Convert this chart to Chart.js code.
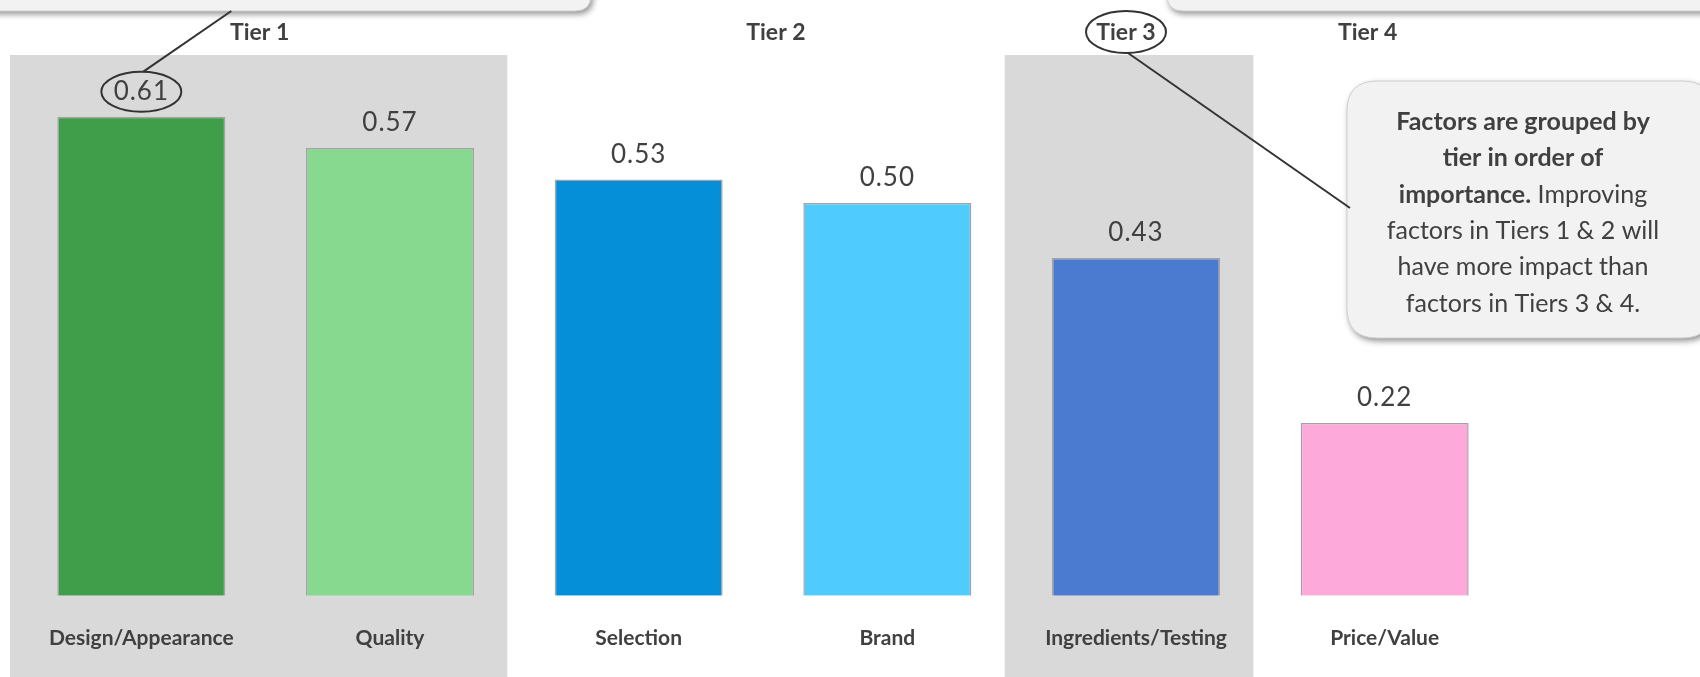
<!DOCTYPE html>
<html>
<head>
<meta charset="UTF-8">
<script src="https://cdn.jsdelivr.net/npm/chart.js@4/dist/chart.umd.min.js"></script>
<style>
  html, body { margin: 0; padding: 0; background: #fff; }
  #wrap { width: 1700px; height: 677px; position: relative; }
</style>
</head>
<body>
<div id="wrap"><canvas id="chart" width="1700" height="677"></canvas></div>
<script>
// data
const factors = ['Design/Appearance', 'Quality', 'Selection', 'Brand', 'Ingredients/Testing', 'Price/Value'];
const importance = [0.61, 0.57, 0.53, 0.50, 0.43, 0.22];
const barColors = ['#409e4b', '#86d98f', '#068fd9', '#4fcbfe', '#4b7bd1', '#fdaadb'];
const tierNames = ['Tier 1', 'Tier 2', 'Tier 3', 'Tier 4'];
const tierFirst = [0, 2, 4, 5];   // first factor index of each tier
const tierLast  = [1, 3, 4, 5];   // last factor index of each tier
const shadedTiers = [0, 2];       // tiers drawn on a grey panel

const FONT = 'Lato, "Open Sans", sans-serif';
const INK = '#404040';

function roundRect(ctx, x, y, w, h, r) {
  ctx.beginPath();
  ctx.moveTo(x + r, y);
  ctx.lineTo(x + w - r, y);
  ctx.quadraticCurveTo(x + w, y, x + w, y + r);
  ctx.lineTo(x + w, y + h - r);
  ctx.quadraticCurveTo(x + w, y + h, x + w - r, y + h);
  ctx.lineTo(x + r, y + h);
  ctx.quadraticCurveTo(x, y + h, x, y + h - r);
  ctx.lineTo(x, y + r);
  ctx.quadraticCurveTo(x, y, x + r, y);
  ctx.closePath();
}

function calloutBox(ctx, x, y, w, h, r) {
  ctx.save();
  ctx.shadowColor = 'rgba(0,0,0,0.45)';
  ctx.shadowBlur = 6;
  ctx.shadowOffsetX = 2;
  ctx.shadowOffsetY = 3;
  roundRect(ctx, x, y, w, h, r);
  ctx.fillStyle = '#f2f2f2';
  ctx.fill();
  ctx.restore();
  ctx.save();
  roundRect(ctx, x, y, w, h, r);
  ctx.strokeStyle = '#d0d0d0';
  ctx.lineWidth = 1;
  ctx.stroke();
  ctx.restore();
}

function ellipse(ctx, cx, cy, rx, ry) {
  ctx.beginPath();
  ctx.ellipse(cx, cy, rx, ry, 0, 0, Math.PI * 2);
  ctx.stroke();
}

function slotEdges(xs, i) {
  const half = (xs.getPixelForValue(1) - xs.getPixelForValue(0)) / 2;
  const c = xs.getPixelForValue(i);
  return [c - half, c + half];
}

const tierPlugin = {
  id: 'tiers',
  beforeDraw(chart) {
    const ctx = chart.ctx;
    const xs = chart.scales.x;
    ctx.save();
    ctx.fillStyle = '#ffffff';
    ctx.fillRect(0, 0, chart.width, chart.height);
    ctx.fillStyle = '#d9d9d9';
    shadedTiers.forEach(t => {
      const l = slotEdges(xs, tierFirst[t])[0] - 7;
      const r = slotEdges(xs, tierLast[t])[1] - 7;
      ctx.fillRect(l, 55, r - l, chart.height - 55);
    });
    ctx.restore();
  },
  afterDraw(chart) {
    const ctx = chart.ctx;
    const xs = chart.scales.x;
    const meta = chart.getDatasetMeta(0);
    ctx.save();

    // value labels
    ctx.fillStyle = INK;
    ctx.font = '26px ' + FONT;
    ctx.textAlign = 'center';
    ctx.textBaseline = 'middle';
    ctx.letterSpacing = '1px';
    meta.data.forEach((bar, i) => {
      ctx.fillText(importance[i].toFixed(2), bar.x, bar.y - 25);
    });
    ctx.letterSpacing = '0px';

    // tier labels
    const nudge = [-6, 13, -10, -17];
    ctx.font = 'bold 23px ' + FONT;
    const tierPos = tierNames.map((name, t) => {
      const x = (xs.getPixelForValue(tierFirst[t]) + xs.getPixelForValue(tierLast[t])) / 2 + nudge[t];
      ctx.fillText(name, x, 33);
      return x;
    });

    // callout boxes cut by the top edge
    calloutBox(ctx, -20, -60, 611, 71, 16);
    calloutBox(ctx, 1167, -60, 560, 71, 16);

    // right hand callout
    calloutBox(ctx, 1347, 81, 365, 257, 30);
    const cx = 1523;
    const lines = [
      [['bold', 'Factors are grouped by']],
      [['bold', 'tier in order of']],
      [['bold', 'importance.'], ['normal', ' Improving']],
      [['normal', 'factors in Tiers 1 & 2 will']],
      [['normal', 'have more impact than']],
      [['normal', 'factors in Tiers 3 & 4.']]
    ];
    ctx.fillStyle = INK;
    ctx.textBaseline = 'middle';
    ctx.textAlign = 'left';
    lines.forEach((parts, k) => {
      const y = 122 + k * 36.3;
      let total = 0;
      parts.forEach(p => { ctx.font = p[0] + ' 25px ' + FONT; total += ctx.measureText(p[1]).width; });
      let x = cx - total / 2;
      parts.forEach(p => {
        ctx.font = p[0] + ' 25px ' + FONT;
        ctx.fillText(p[1], x, y);
        x += ctx.measureText(p[1]).width;
      });
    });

    // circles and leader lines
    ctx.strokeStyle = '#333333';
    ctx.lineWidth = 2;
    const b0 = meta.data[0];
    ellipse(ctx, b0.x, b0.y - 25, 40, 20);
    ctx.beginPath();
    ctx.moveTo(b0.x + 2, b0.y - 45);
    ctx.lineTo(b0.x + 90, 11);
    ctx.stroke();

    const t3x = tierPos[2];
    ellipse(ctx, t3x, 32, 40, 21);
    ctx.beginPath();
    ctx.moveTo(t3x + 2, 53);
    ctx.lineTo(1350, 208);
    ctx.stroke();

    ctx.restore();
  }
};

new Chart(document.getElementById('chart'), {
  type: 'bar',
  data: {
    labels: factors,
    datasets: [{
      data: importance,
      backgroundColor: barColors,
      borderColor: '#a3a3a3',
      borderWidth: 1.5,
      barPercentage: 0.6755,
      categoryPercentage: 1
    }]
  },
  options: {
    responsive: false,
    animation: false,
    layout: { padding: { left: 17, right: 191, top: 46, bottom: -3 } },
    plugins: { legend: { display: false }, tooltip: { enabled: false } },
    scales: {
      x: {
        grid: { display: false, drawTicks: false },
        border: { display: false },
        ticks: { color: INK, font: { family: FONT, size: 21, weight: 'bold' }, padding: 29.5 }
      },
      y: { display: false, min: 0, max: 0.7 }
    }
  },
  plugins: [tierPlugin]
});
</script>
</body>
</html>
